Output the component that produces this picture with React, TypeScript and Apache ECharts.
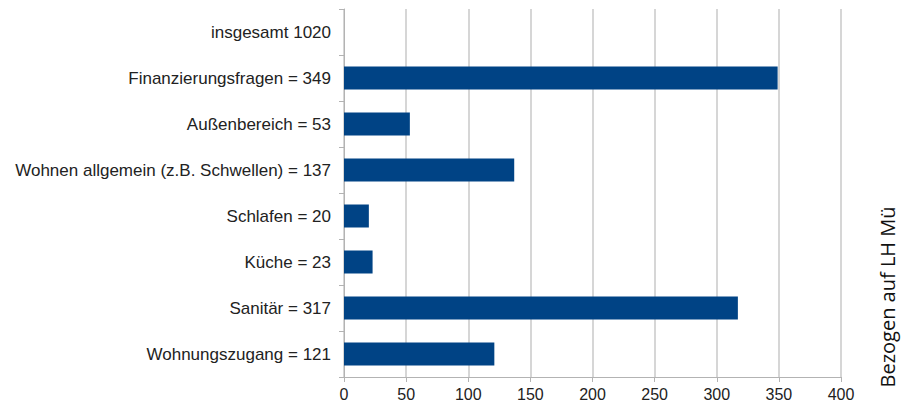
import React, { useEffect, useRef } from "react";
import * as echarts from "echarts";

const categories = [
  "Wohnungszugang = 121",
  "Sanitär = 317",
  "Küche = 23",
  "Schlafen = 20",
  "Wohnen allgemein (z.B. Schwellen) = 137",
  "Außenbereich = 53",
  "Finanzierungsfragen = 349",
  "insgesamt 1020",
];
const values: (number | null)[] = [121, 317, 23, 20, 137, 53, 349, null];
const sideNote = "Bezogen auf LH Mü";

export default function App() {
  const ref = useRef<HTMLDivElement>(null);
  useEffect(() => {
    if (!ref.current) return;
    const chart = echarts.init(ref.current, undefined, { renderer: "svg" });
    chart.setOption({
      animation: false,
      backgroundColor: "#ffffff",
      grid: { left: 344, right: 61, top: 9, bottom: 31, containLabel: false },
      xAxis: {
        type: "value",
        min: 0,
        max: 400,
        interval: 50,
        axisLine: { show: true, lineStyle: { color: "#b3b3b3", width: 1 } },
        axisTick: { show: true, length: 5, lineStyle: { color: "#b3b3b3" } },
        axisLabel: {
          color: "#222",
          fontFamily: "Liberation Sans, Arial, sans-serif",
          fontSize: 16,
          margin: 9,
        },
        splitLine: { show: true, lineStyle: { color: "#c8c8c8", width: 1.5 } },
      },
      yAxis: {
        type: "category",
        data: categories,
        axisLine: { show: true, lineStyle: { color: "#b3b3b3", width: 1 } },
        axisTick: { show: true, length: 5, alignWithLabel: false, lineStyle: { color: "#b3b3b3" } },
        axisLabel: {
          color: "#222",
          fontFamily: "Liberation Sans, Arial, sans-serif",
          fontSize: 17,
          margin: 13,
        },
        splitLine: { show: false },
      },
      series: [
        {
          type: "bar",
          data: values,
          barWidth: "50%",
          itemStyle: { color: "#004385" },
        },
      ],
      graphic: [
        {
          type: "text",
          x: 887,
          y: 297,
          rotation: Math.PI / 2,
          style: {
            text: sideNote,
            fill: "#111",
            font: "20px 'Open Sans', sans-serif",
            align: "center",
            verticalAlign: "middle",
          },
        },
      ],
    });
    return () => chart.dispose();
  }, []);
  return <div ref={ref} style={{ width: 902, height: 408, position: "absolute", left: 0, top: 0 }} />;
}
